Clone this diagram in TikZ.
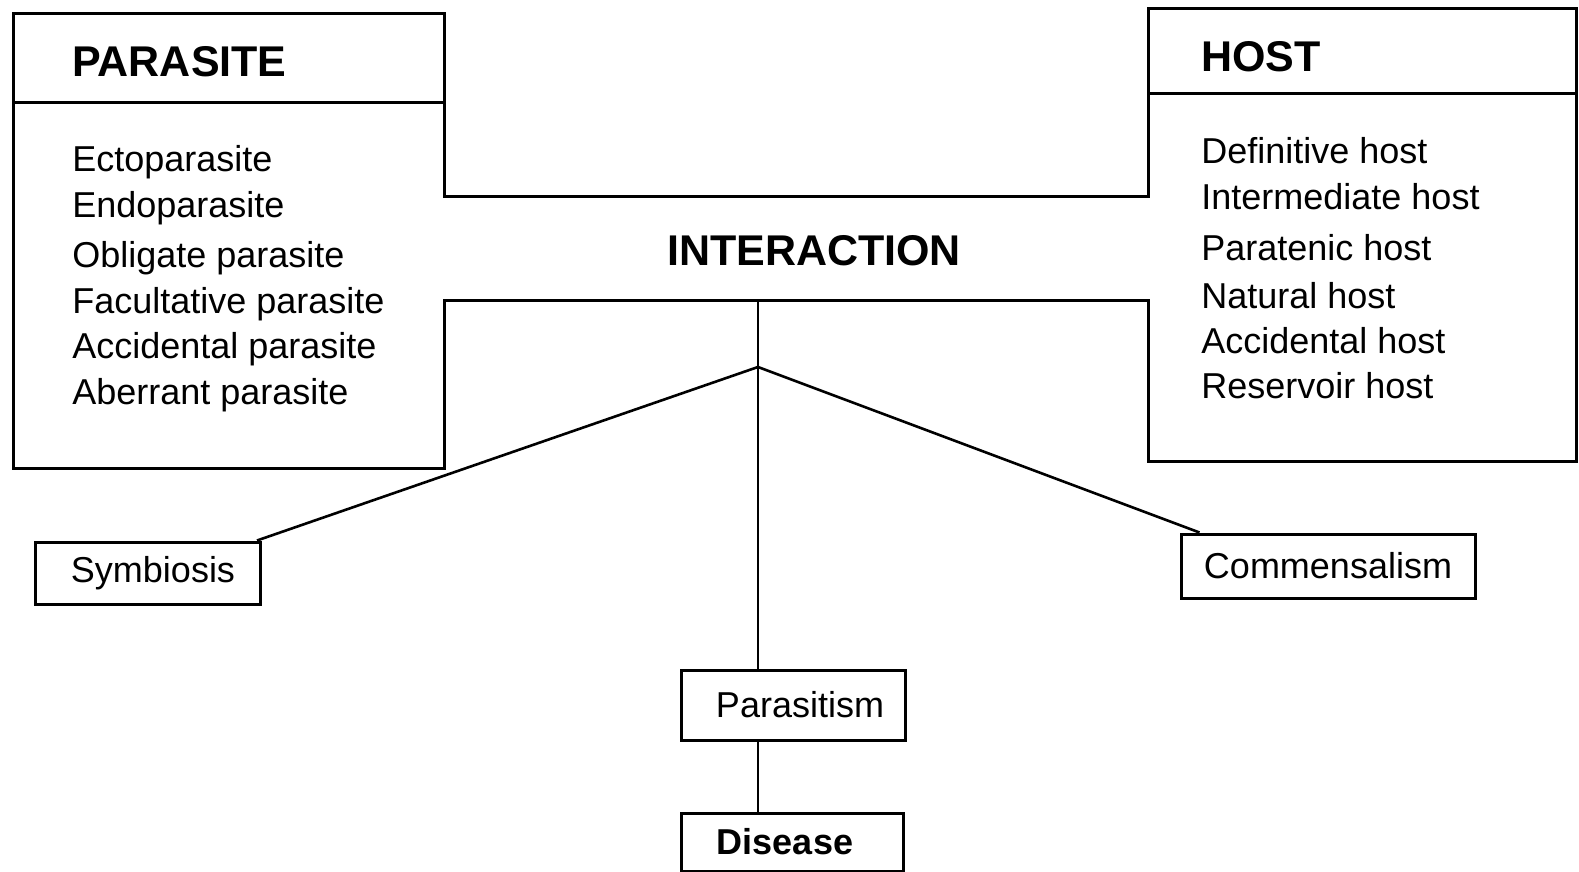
\documentclass[tikz,border=0pt]{standalone}
\usepackage{fontspec}
\setmainfont{Liberation Sans}
\begin{document}
\begin{tikzpicture}[x=0.5pt,y=-0.5pt,
  boxline/.style={line width=1.5pt, line join=miter},
  conn/.style={line width=1.3pt},
  item/.style={anchor=base west, inner sep=0pt, font=\fontsize{18}{20}\selectfont},
  head/.style={anchor=base west, inner sep=0pt, font=\fontsize{21.5}{24}\selectfont\bfseries},
  sbox/.style={draw, line width=1.5pt, inner sep=0pt, font=\fontsize{18}{20}\selectfont}]
\useasboundingbox (0,0) rectangle (1579,872);
% combined outline of PARASITE and HOST boxes with the bridge
\draw[boxline] (444,196) -- (444,14) -- (13,14) -- (13,468) -- (444,468) -- (444,300)
  -- (1148,300) -- (1148,461) -- (1576,461) -- (1576,9) -- (1148,9) -- (1148,196) -- cycle;
\draw[boxline] (13,103) -- (444,103);
\draw[boxline] (1148,94) -- (1576,94);
% headings
\node[head] (parasite) at (72,77) {PARASITE};
\node[head] (host) at (1201,72) {HOST};
\node[head, anchor=base] (interaction) at (814,265) {INTERACTION};
% parasite list
\node[item] (p1) at (72,171) {Ectoparasite};
\node[item] (p2) at (72,217) {Endoparasite};
\node[item] (p3) at (72,267) {Obligate parasite};
\node[item] (p4) at (72,313) {Facultative parasite};
\node[item] (p5) at (72,358) {Accidental parasite};
\node[item] (p6) at (72,404) {Aberrant parasite};
% host list
\node[item] (h1) at (1201,163) {Definitive host};
\node[item] (h2) at (1201,209) {Intermediate host};
\node[item] (h3) at (1201,260) {Paratenic host};
\node[item] (h4) at (1201,308) {Natural host};
\node[item] (h5) at (1201,353) {Accidental host};
\node[item] (h6) at (1201,398) {Reservoir host};
% small boxes
\node[sbox, minimum width=112.5pt, minimum height=31pt] (sym) at (148,573) {\hspace*{5pt}Symbiosis};
\node[sbox, minimum width=147pt, minimum height=32pt] (comm) at (1328,566) {Commensalism};
\node[sbox, minimum width=112pt, minimum height=35pt] (par) at (793,705) {\hspace*{7pt}Parasitism};
\node[sbox, minimum width=111pt, minimum height=29pt, font=\fontsize{18}{20}\selectfont\bfseries] (dis) at (792,842) {Disease\hspace*{7pt}};
% connectors
\coordinate (hub) at (758,300);
\coordinate (apex) at (758,367);
\draw[conn] (hub) -- (par.north -| hub);
\draw[conn] (apex) -- ([xshift=-2.5pt]sym.north east);
\draw[conn] (apex) -- ([xshift=10pt]comm.north west);
\draw[conn] (par.south -| hub) -- (dis.north -| hub);
\end{tikzpicture}
\end{document}
